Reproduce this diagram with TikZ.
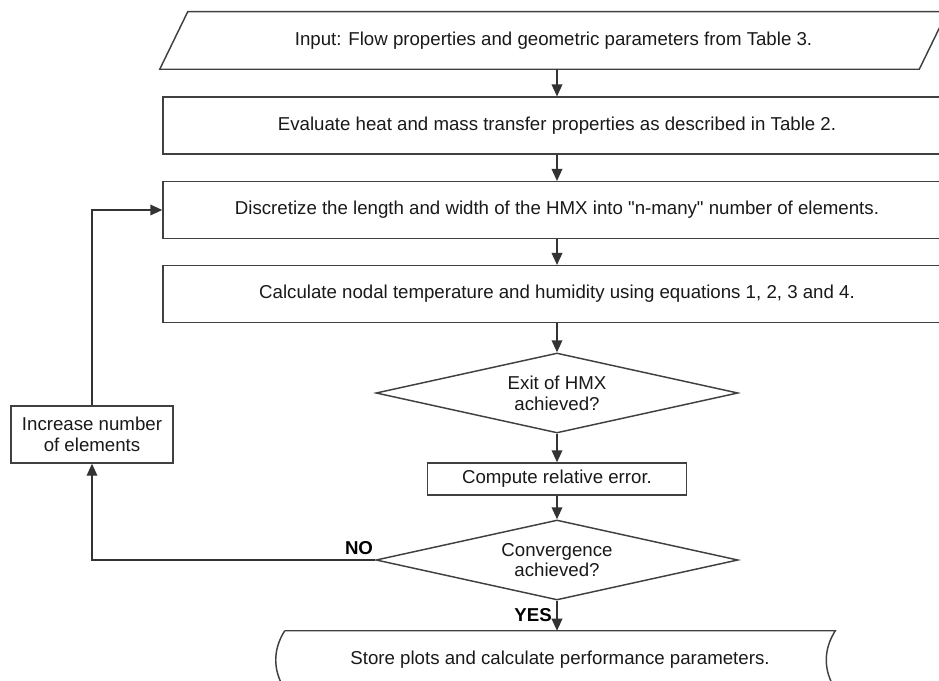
\documentclass[tikz,border=0pt]{standalone}
\usepackage{fontspec}
\setmainfont{Liberation Sans}
\newfontfamily\diagfont{Liberation Sans}
\usetikzlibrary{shapes.geometric,arrows.meta,calc}
\begin{document}
\begin{tikzpicture}[x=0.75pt,y=-0.75pt,
  line/.style={draw=black!75, line width=1.1pt},
  arr/.style={draw=black!80, line width=1.1pt, -{Triangle[length=9pt,width=8pt]}},
  txt/.style={font=\diagfont\fontsize{14}{15.5}\selectfont, text=black!90, align=center, inner sep=0pt},
  procbox/.style={txt, line, rectangle, minimum width=591pt, minimum height=42.5pt},
  decision/.style={txt, line, diamond, aspect=4.5, minimum width=271.5pt, minimum height=60pt},
  lbl/.style={font=\diagfont\fontsize{14}{15.5}\selectfont\bfseries, inner sep=0pt}]
\useasboundingbox (0,0) rectangle (939,681);
\clip (0,0) rectangle (939,681);
% input parallelogram
\node[txt, minimum width=590.25pt, minimum height=42.75pt] (inp) at (553.5,40.5) {Input: Flow properties and geometric parameters from Table 3.};
\draw[line] ($(inp.north west)+(28,0)$) -- (inp.north east) -- ($(inp.south east)+(-28,0)$) -- (inp.south west) -- cycle;
% process boxes
\node[procbox] (e) at (557,125.5) {Evaluate heat and mass transfer properties as described in Table 2.};
\node[procbox] (d) at (557,210) {Discretize the length and width of the HMX into "n-many" number of elements.};
\node[procbox] (c) at (557,294) {Calculate nodal temperature and humidity using equations 1, 2, 3 and 4.};
\node[decision] (x) at (557,393) {Exit of HMX\\achieved?};
\node[txt, line, minimum width=194.25pt, minimum height=24pt] (r) at (557,479) {Compute relative error.};
\node[decision] (v) at (557,560) {Convergence\\achieved?};
\node[txt, line, minimum width=121.5pt, minimum height=42.75pt] (inc) at (92,434.5) {Increase number\\of elements};
% stored data shape
\node[txt, minimum width=412.5pt, minimum height=43.5pt] (st) at (560,660) {Store plots and calculate performance parameters.};
\draw[line] (st.north west) -- (st.north east)
  .. controls ($(st.north east)+(-12,19)$) and ($(st.south east)+(-12,-19)$) .. (st.south east);
\draw[line] (st.north west)
  .. controls ($(st.north west)+(-12,19)$) and ($(st.south west)+(-12,-19)$) .. (st.south west);
% connectors
\draw[arr] (inp.south -| e.north) -- (e.north);
\draw[arr] (e) -- (d);
\draw[arr] (d) -- (c);
\draw[arr] (c) -- (x);
\draw[arr] (x) -- (r);
\draw[arr] (r) -- (v);
\draw[arr] (v.south) -- (st.north -| v.south);
\node[lbl, anchor=east] (yes) at (552,615) {YES};
\draw[arr] (v.west) -| (inc.south);
\node[lbl] (no) at (359,548) {NO};
\draw[arr] (inc.north) |- (d.west);
\end{tikzpicture}
\end{document}
